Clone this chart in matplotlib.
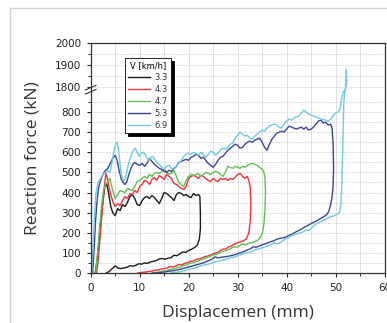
import numpy as np
import matplotlib
matplotlib.use('Agg')
import matplotlib.pyplot as plt
from matplotlib.patches import Rectangle

# ---- data (displacement mm, force kN) ----
speeds = ['3.3', '4.3', '4.7', '5.3', '6.9']
colors = ['#1a1a1a', '#e8333b', '#62bf52', '#3d4596', '#6fcbe0']

x_33 = [0.9, 1.3, 1.7, 2.1, 2.5, 2.9, 3.3, 3.7, 4.1, 4.5, 5.0, 5.5, 6.0, 6.5, 7.0, 7.5, 8.0, 8.5,
        9.0, 9.5, 10.0, 10.5, 11.0, 11.5, 12.0, 12.5, 13.0, 13.5, 14.0, 14.5, 15.0, 15.5, 16.0,
        16.5, 17.0, 17.5, 18.0, 18.5, 19.0, 19.5, 20.0, 20.5, 21.0, 21.5, 22.0, 22.3,
        22.4, 22.4, 22.2, 21.8, 21.3,
        20.6, 20.0, 19.4, 18.8, 18.2, 17.6, 17.0, 16.4, 15.8, 15.2, 14.6, 14.0, 13.4, 12.8,
        12.2, 11.6, 11.0, 10.4, 9.8, 9.2, 8.6, 8.0, 7.4, 6.8, 6.2, 5.6, 5.0, 4.4, 3.8, 3.2]
y_33 = [0, 60, 160, 270, 360, 430, 440, 390, 330, 300, 285, 320, 310, 340, 330, 350, 380, 390,
        370, 340, 335, 360, 375, 380, 370, 385, 375, 360, 345, 370, 400, 395, 385,
        375, 360, 390, 400, 395, 385, 390, 380, 375, 395, 385, 390, 380,
        300, 220, 170, 140, 128,
        118, 112, 102, 105, 95, 86, 88, 76, 74, 68, 72, 70, 62, 58,
        55, 48, 50, 44, 46, 38, 34, 36, 28, 25, 22, 24, 35, 22, 8, 0]

x_43 = [1.2, 1.6, 2.0, 2.4, 2.8, 3.1, 3.4, 3.8, 4.2, 4.6, 5.0, 5.5, 6.0, 6.5, 7.0, 7.5, 8.0,
        8.5, 9.0, 9.5, 10.0, 10.5, 11.0, 11.5, 12.0, 12.5, 13.0, 13.5, 14.0, 14.5, 15.0, 15.5,
        16.0, 16.5, 17.0, 17.5, 18.0, 18.5, 19.0, 19.5, 20.0, 20.5, 21.0, 21.5, 22.0, 22.5,
        23.0, 23.5, 24.0, 24.5, 25.0, 25.5, 26.0, 26.5, 27.0, 27.5, 28.0, 28.5, 29.0, 29.5,
        30.0, 30.5, 31.0, 31.5, 32.0, 32.3, 32.6, 32.7, 32.6, 32.3, 31.8, 31.2,
        30.6, 30.0, 29.4, 28.8, 28.2, 27.6, 27.0, 26.4, 25.8, 25.2, 24.6, 24.0, 23.4, 22.8,
        22.2, 21.6, 21.0, 20.4, 19.8, 19.2, 18.6, 18.0, 17.4, 16.8, 16.2, 15.6, 15.0, 14.4,
        13.8, 13.2, 12.6, 12.0, 11.4, 10.8, 10.2, 9.6]
y_43 = [0, 80, 200, 320, 430, 495, 470, 420, 380, 350, 330, 345, 335, 360, 380, 370, 395,
        390, 410, 400, 430, 440, 460, 455, 440, 465, 475, 460, 485, 475, 465, 490,
        480, 470, 445, 440, 430, 420, 415, 430, 470, 480, 485, 480, 470, 485,
        480, 470, 460, 455, 470, 460, 455, 470, 465, 470, 460, 470, 465, 475,
        490, 495, 480, 470, 480, 460, 420, 340, 260, 200, 170, 160,
        155, 150, 145, 135, 130, 120, 118, 110, 100, 98, 90, 85, 82, 75,
        70, 68, 60, 58, 52, 48, 40, 42, 35, 30, 32, 25, 22, 20,
        15, 14, 10, 8, 5, 4, 2, 0]

x_47 = [1.0, 1.4, 1.8, 2.2, 2.6, 3.0, 3.4, 3.9, 4.4, 5.0, 5.5, 6.0, 6.5, 7.0, 7.5, 8.0, 8.5,
        9.0, 9.5, 10.0, 10.5, 11.0, 11.5, 12.0, 12.5, 13.0, 13.5, 14.0, 14.5, 15.0, 15.5,
        16.0, 16.5, 17.0, 17.5, 18.0, 18.5, 19.0, 19.5, 20.0, 20.5, 21.0, 21.5, 22.0, 22.5,
        23.0, 23.5, 24.0, 24.5, 25.0, 25.5, 26.0, 26.5, 27.0, 27.5, 28.0, 28.5, 29.0, 29.5,
        30.0, 30.5, 31.0, 31.5, 32.0, 32.5, 33.0, 33.5, 34.0, 34.5, 35.0, 35.4, 35.6, 35.7,
        35.6, 35.4, 35.1, 34.6, 34.0, 33.4,
        32.8, 32.2, 31.6, 31.0, 30.4, 29.8, 29.2, 28.6, 28.0, 27.4, 26.8, 26.2, 25.6, 25.0,
        24.4, 23.8, 23.2, 22.6, 22.0, 21.4, 20.8, 20.2, 19.6, 19.0, 18.4, 17.8, 17.2, 16.6,
        16.0, 15.4, 14.8, 14.2, 13.6, 13.0, 12.4]
y_47 = [0, 100, 220, 330, 410, 440, 450, 470, 420, 370, 390, 410, 405, 400, 420, 415, 410,
        430, 455, 460, 470, 480, 470, 490, 480, 495, 500, 495, 505, 520, 500,
        490, 495, 510, 480, 450, 440, 430, 460, 480, 490, 485, 490, 495, 480,
        490, 500, 495, 490, 500, 505, 500, 490, 480, 500, 530, 525, 520, 530,
        525, 520, 530, 525, 535, 540, 545, 540, 535, 525, 515, 500, 470, 400,
        320, 250, 200, 175, 160, 155,
        150, 148, 140, 145, 135, 128, 130, 122, 115, 110, 105, 100, 92, 90,
        82, 78, 70, 68, 60, 55, 50, 48, 40, 38, 30, 28, 22, 20,
        15, 12, 10, 6, 4, 2, 0]

x_53 = [0.4, 0.7, 1.0, 1.3, 1.6, 2.0, 2.5, 3.0, 3.5, 4.0, 4.5, 5.0, 5.4, 5.8, 6.2, 6.6, 7.0,
        7.4, 7.8, 8.2, 8.6, 9.0, 9.5, 10.0, 10.5, 11.0, 11.5, 12.0, 12.5, 13.0, 13.5, 14.0,
        14.5, 15.0, 15.5, 16.0, 16.5, 17.0, 17.5, 18.0, 18.5, 19.0, 19.5, 20.0, 20.5, 21.0,
        21.5, 22.0, 22.5, 23.0, 23.5, 24.0, 24.5, 25.0, 25.5, 26.0, 26.5, 27.0, 27.5, 28.0,
        28.5, 29.0, 29.5, 30.0, 30.5, 31.0, 31.5, 32.0, 32.5, 33.0, 33.5, 34.0, 34.5, 35.0,
        35.5, 36.0, 36.5, 37.0, 37.5, 38.0, 38.5, 39.0, 39.5, 40.0, 40.5, 41.0, 41.5, 42.0,
        42.5, 43.0, 43.5, 44.0, 44.5, 45.0, 45.5, 46.0, 46.5, 47.0, 47.5, 48.0, 48.5, 49.0,
        49.3, 49.5, 49.6, 49.5, 49.3, 49.0, 48.6, 48.2,
        47.6, 47.0, 46.4, 45.8, 45.2, 44.6, 44.0, 43.4, 42.8, 42.2, 41.6, 41.0, 40.4, 39.8,
        39.2, 38.6, 38.0, 37.4, 36.8, 36.2, 35.6, 35.0, 34.4, 33.8, 33.2, 32.6, 32.0, 31.4,
        30.8, 30.2, 29.6, 29.0, 28.4, 27.8, 27.2, 26.6, 26.0, 25.4, 24.8, 24.2, 23.6, 23.0,
        22.4, 21.8, 21.2, 20.6, 20.0, 19.4, 18.8, 18.2, 17.6, 17.0, 16.4, 15.8, 15.2, 14.6,
        14.0, 13.4, 12.8]
y_53 = [0, 120, 260, 360, 420, 460, 490, 510, 520, 545, 570, 585, 560, 510, 470, 450, 440,
        455, 490, 520, 540, 550, 540, 535, 545, 530, 545, 570, 555, 540, 530, 520,
        515, 505, 500, 510, 505, 520, 530, 550, 555, 560, 565, 560, 575, 580,
        590, 585, 570, 575, 560, 545, 535, 525, 540, 560, 575, 580, 595, 610,
        620, 630, 640, 635, 620, 625, 640, 650, 655, 650, 660, 665, 670, 650,
        625, 610, 640, 665, 680, 695, 700, 705, 700, 715, 730, 725, 720, 715,
        720, 725, 715, 725, 710, 715, 725, 740, 755, 760, 745, 750, 735, 740,
        720, 640, 520, 430, 380, 340, 305, 290,
        280, 272, 262, 255, 248, 240, 232, 224, 215, 208, 200, 192, 186, 178,
        174, 172, 168, 160, 156, 150, 145, 140, 134, 128, 130, 120, 115, 108,
        102, 98, 92, 88, 85, 82, 80, 78, 75, 80, 70, 62, 57, 50,
        46, 42, 38, 34, 30, 26, 22, 18, 15, 12, 10, 8, 5, 4,
        2, 0, 0]

x_69 = [0.2, 0.5, 0.8, 1.1, 1.5, 2.0, 2.5, 3.0, 3.5, 3.9, 4.3, 4.7, 5.1, 5.4, 5.7, 6.0, 6.3,
        6.7, 7.1, 7.5, 7.9, 8.3, 8.7, 9.1, 9.5, 9.9, 10.3, 10.7, 11.1, 11.5, 11.9, 12.3, 12.7,
        13.1, 13.5, 14.0, 14.5, 15.0, 15.5, 16.0, 16.5, 17.0, 17.5, 18.0, 18.5, 19.0, 19.5,
        20.0, 20.5, 21.0, 21.5, 22.0, 22.5, 23.0, 23.5, 24.0, 24.5, 25.0, 25.5, 26.0, 26.5,
        27.0, 27.5, 28.0, 28.5, 29.0, 29.5, 30.0, 30.5, 31.0, 31.5, 32.0, 32.5, 33.0, 33.5,
        34.0, 34.5, 35.0, 35.5, 36.0, 36.5, 37.0, 37.5, 38.0, 38.5, 39.0, 39.5, 40.0, 40.5,
        41.0, 41.5, 42.0, 42.5, 43.0, 43.5, 44.0, 44.5, 45.0, 45.5, 46.0, 46.5, 47.0, 47.5,
        48.0, 48.5, 49.0, 49.5, 50.0, 50.5, 50.9, 51.2, 51.6, 52.0, 52.2, 52.3, 51.9, 51.7,
        51.5, 51.3, 51.1, 50.8, 50.3, 49.8,
        49.3, 48.8, 48.2, 47.6, 47.0, 46.4, 45.8, 45.2, 44.6, 44.0, 43.4, 42.8, 42.2, 41.6,
        41.0, 40.4, 39.8, 39.2, 38.6, 38.0, 37.4, 36.8, 36.2, 35.6, 35.0, 34.4, 33.8, 33.2,
        32.6, 32.0, 31.4, 30.8, 30.2, 29.6, 29.0, 28.4, 27.8, 27.2, 26.6, 26.0, 25.4, 24.8,
        24.2, 23.6, 23.0, 22.4, 21.8, 21.2, 20.6, 20.0, 19.4, 18.8, 18.2, 17.6, 17.0, 16.4]
y_69 = [0, 150, 300, 400, 450, 470, 490, 500, 510, 500, 540, 600, 640, 650, 610, 540, 480,
        460, 470, 520, 560, 590, 610, 620, 600, 580, 595, 600, 590, 570, 560, 575, 580,
        565, 550, 540, 525, 520, 530, 535, 520, 515, 530, 545, 560, 580, 590,
        595, 590, 600, 595, 585, 600, 590, 575, 590, 605, 600, 585, 595, 610,
        620, 615, 625, 640, 645, 670, 685, 700, 690, 680, 685, 670, 665, 680,
        690, 700, 710, 705, 720, 730, 735, 740, 735, 725, 720, 740, 755, 765,
        760, 770, 775, 780, 795, 810, 800, 790, 785, 780, 775, 770, 765, 762,
        760, 755, 765, 780, 795, 800, 815, 860, 1000, 1500, 1880, 1820, 1000, 850,
        650, 450, 340, 300, 292, 285,
        282, 278, 270, 262, 255, 248, 240, 225, 212, 215, 205, 200, 195, 190,
        185, 175, 170, 160, 150, 145, 150, 140, 135, 130, 125, 120, 118, 110,
        105, 100, 98, 92, 88, 80, 78, 75, 70, 65, 62, 58, 55, 50,
        45, 42, 38, 35, 30, 25, 20, 18, 12, 10, 6, 4, 2, 0]

series_x = [x_33, x_43, x_47, x_53, x_69]
series_y = [y_33, y_43, y_47, y_53, y_69]

# broken y axis: 0-900 and 1785-2000 kept, the middle squeezed
YP = [-1e4, 900, 1785, 1e4]
FP = [-1e4, 900, 924 - 15 * 1.095, 924 + (1e4 - 1800) * 1.095]


def fwd(y):
    return np.interp(y, YP, FP)


def inv(f):
    return np.interp(f, FP, YP)


plt.rcParams['font.family'] = 'DejaVu Sans'

fig = plt.figure(figsize=(3.87, 3.23), dpi=100)
fig.patch.set_facecolor('white')
# light frame around the whole picture
fig.patches.append(Rectangle((10 / 387, -0.2), 1.2, (323 - 8) / 323 + 0.2,
                             transform=fig.transFigure, fill=False,
                             edgecolor='#cfcfcf', linewidth=1.0))

ax = fig.add_axes([90.7 / 387, 50 / 323, (384.5 - 90.7) / 387, 230 / 323])
ax.set_yscale('function', functions=(fwd, inv))

for xs, ys, c, lab in zip(series_x, series_y, colors, speeds):
    ax.plot(xs, ys, color=c, linewidth=1.0, label=lab)

ax.set_xlim(0, 60)
ax.set_ylim(0, 2000)
ax.set_xticks(np.arange(0, 61, 10))
ax.set_xticks(np.arange(5, 60, 10), minor=True)
ax.set_yticks(list(range(0, 801, 100)) + [1800, 1900, 2000])
ax.set_yticks(list(range(50, 851, 100)) + [1850, 1950], minor=True)

ax.grid(axis='x', which='both', color='#dadada', linewidth=0.6)
ax.grid(axis='y', which='both', color='#d2d2d2', linewidth=0.6, linestyle=(0, (2, 1.5)))
ax.set_axisbelow(True)

ax.tick_params(axis='both', which='major', direction='out', length=3, width=0.8,
               labelsize=7.5, colors='#222222', pad=4)
ax.tick_params(axis='both', which='minor', direction='out', length=2, width=0.6)
for s in ax.spines.values():
    s.set_linewidth(0.9)
    s.set_color('#333333')

# break marks on the left spine
for yy in (0.788, 0.806):
    ax.plot([-0.018, 0.018], [yy - 0.01, yy + 0.01], transform=ax.transAxes,
            color='#333333', linewidth=0.8, clip_on=False)

ax.set_xlabel('Displacemen (mm)', fontsize=12.5, family='Open Sans', color='#333333',
              labelpad=9)
ax.set_ylabel('Reaction force (kN)', fontsize=12.5, family='Open Sans', color='#333333',
              labelpad=10)

leg = ax.legend(title='V [km/h]', loc='upper left', bbox_to_anchor=(0.117, 0.935),
                borderaxespad=0, fontsize=6, title_fontsize=6, fancybox=False,
                edgecolor='black', framealpha=1,
                shadow={'color': 'black', 'alpha': 1},
                handlelength=2.6, handletextpad=0.5, labelspacing=0.35, borderpad=0.4)
leg.get_frame().set_linewidth(0.6)
for t in leg.get_texts():
    t.set_color('#333333')

fig.savefig('out.png', dpi=100)
